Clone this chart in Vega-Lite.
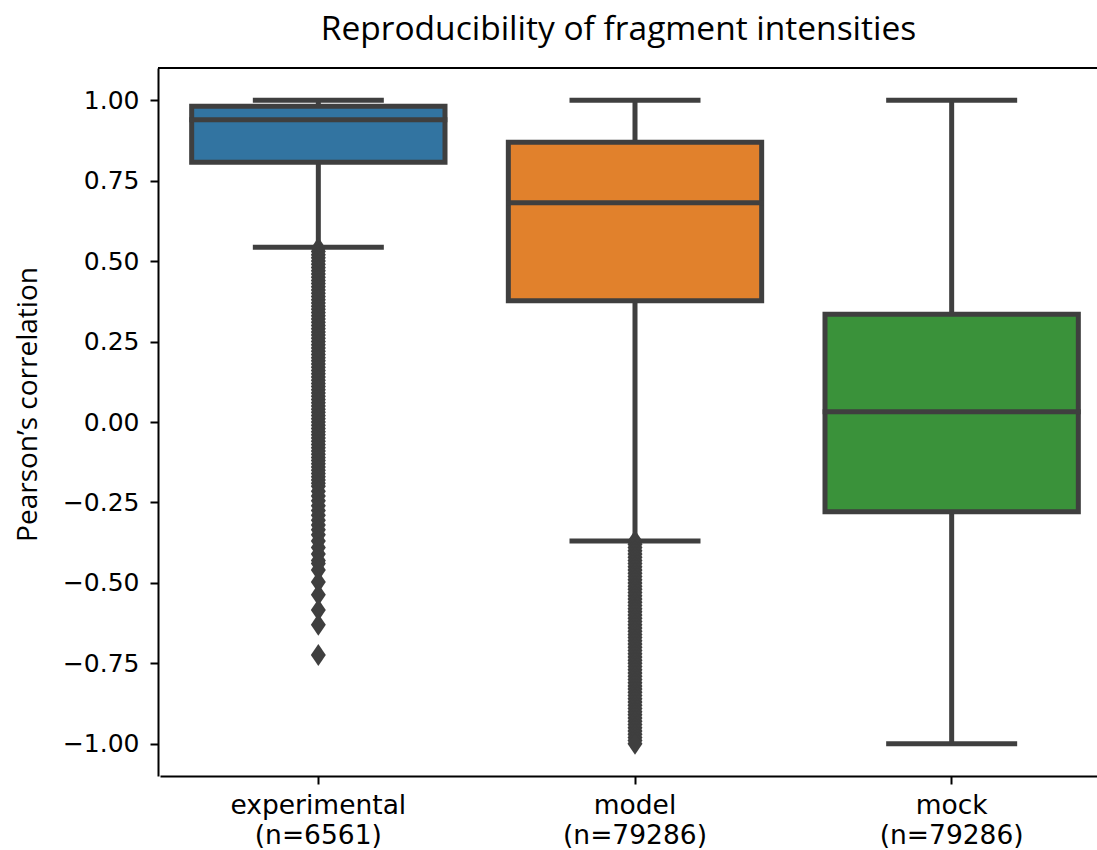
{
  "$schema": "https://vega.github.io/schema/vega-lite/v6.json",
  "autosize": {"type": "none"},
  "padding": {"left": 158, "top": 68, "right": 0, "bottom": 74},
  "width": 939,
  "height": 708,
  "background": "white",
  "config": {"view": {"stroke": null}},
  "title": {
    "text": "Reproducibility of fragment intensities",
    "font": "Open Sans",
    "fontSize": 33.5,
    "fontWeight": "normal",
    "color": "black",
    "frame": "group",
    "anchor": "middle",
    "baseline": "alphabetic",
    "offset": -6,
    "dx": -9
  },
  "datasets": {
    "boxes": [
      {"g": "experimental", "lo": 0.543, "q1": 0.807, "med": 0.939, "q3": 0.981, "hi": 1.0},
      {"g": "model", "lo": -0.37, "q1": 0.377, "med": 0.681, "q3": 0.869, "hi": 1.0},
      {"g": "mock", "lo": -1.0, "q1": -0.279, "med": 0.032, "q3": 0.335, "hi": 1.0}
    ],
    "outliers": [
      {"g": "experimental", "r": 0.54}, {"g": "experimental", "r": 0.53}, {"g": "experimental", "r": 0.52}, {"g": "experimental", "r": 0.51}, {"g": "experimental", "r": 0.50},
      {"g": "experimental", "r": 0.49}, {"g": "experimental", "r": 0.48}, {"g": "experimental", "r": 0.47}, {"g": "experimental", "r": 0.46}, {"g": "experimental", "r": 0.45},
      {"g": "experimental", "r": 0.44}, {"g": "experimental", "r": 0.43}, {"g": "experimental", "r": 0.42}, {"g": "experimental", "r": 0.41}, {"g": "experimental", "r": 0.40},
      {"g": "experimental", "r": 0.39}, {"g": "experimental", "r": 0.38}, {"g": "experimental", "r": 0.37}, {"g": "experimental", "r": 0.36}, {"g": "experimental", "r": 0.35},
      {"g": "experimental", "r": 0.34}, {"g": "experimental", "r": 0.33}, {"g": "experimental", "r": 0.32}, {"g": "experimental", "r": 0.31}, {"g": "experimental", "r": 0.30},
      {"g": "experimental", "r": 0.29}, {"g": "experimental", "r": 0.28}, {"g": "experimental", "r": 0.27}, {"g": "experimental", "r": 0.26}, {"g": "experimental", "r": 0.25},
      {"g": "experimental", "r": 0.24}, {"g": "experimental", "r": 0.23}, {"g": "experimental", "r": 0.22}, {"g": "experimental", "r": 0.21}, {"g": "experimental", "r": 0.20},
      {"g": "experimental", "r": 0.19}, {"g": "experimental", "r": 0.18}, {"g": "experimental", "r": 0.17}, {"g": "experimental", "r": 0.16}, {"g": "experimental", "r": 0.15},
      {"g": "experimental", "r": 0.14}, {"g": "experimental", "r": 0.13}, {"g": "experimental", "r": 0.12}, {"g": "experimental", "r": 0.11}, {"g": "experimental", "r": 0.10},
      {"g": "experimental", "r": 0.09}, {"g": "experimental", "r": 0.08}, {"g": "experimental", "r": 0.07}, {"g": "experimental", "r": 0.06}, {"g": "experimental", "r": 0.05},
      {"g": "experimental", "r": 0.04}, {"g": "experimental", "r": 0.03}, {"g": "experimental", "r": 0.02}, {"g": "experimental", "r": 0.01}, {"g": "experimental", "r": 0.00},
      {"g": "experimental", "r": -0.01}, {"g": "experimental", "r": -0.02}, {"g": "experimental", "r": -0.03}, {"g": "experimental", "r": -0.04}, {"g": "experimental", "r": -0.05},
      {"g": "experimental", "r": -0.06}, {"g": "experimental", "r": -0.07}, {"g": "experimental", "r": -0.08}, {"g": "experimental", "r": -0.09}, {"g": "experimental", "r": -0.10},
      {"g": "experimental", "r": -0.11}, {"g": "experimental", "r": -0.12}, {"g": "experimental", "r": -0.13}, {"g": "experimental", "r": -0.14}, {"g": "experimental", "r": -0.15},
      {"g": "experimental", "r": -0.16}, {"g": "experimental", "r": -0.17}, {"g": "experimental", "r": -0.18}, {"g": "experimental", "r": -0.19}, {"g": "experimental", "r": -0.20},
      {"g": "experimental", "r": -0.215}, {"g": "experimental", "r": -0.23}, {"g": "experimental", "r": -0.245}, {"g": "experimental", "r": -0.26}, {"g": "experimental", "r": -0.275},
      {"g": "experimental", "r": -0.29}, {"g": "experimental", "r": -0.305}, {"g": "experimental", "r": -0.32}, {"g": "experimental", "r": -0.335}, {"g": "experimental", "r": -0.35},
      {"g": "experimental", "r": -0.37}, {"g": "experimental", "r": -0.39}, {"g": "experimental", "r": -0.41}, {"g": "experimental", "r": -0.43}, {"g": "experimental", "r": -0.44},
      {"g": "experimental", "r": -0.46}, {"g": "experimental", "r": -0.497}, {"g": "experimental", "r": -0.537}, {"g": "experimental", "r": -0.584}, {"g": "experimental", "r": -0.63},
      {"g": "experimental", "r": -0.724},
      {"g": "model", "r": -0.37}, {"g": "model", "r": -0.38}, {"g": "model", "r": -0.39}, {"g": "model", "r": -0.40}, {"g": "model", "r": -0.41},
      {"g": "model", "r": -0.42}, {"g": "model", "r": -0.43}, {"g": "model", "r": -0.44}, {"g": "model", "r": -0.45}, {"g": "model", "r": -0.46},
      {"g": "model", "r": -0.47}, {"g": "model", "r": -0.48}, {"g": "model", "r": -0.49}, {"g": "model", "r": -0.50}, {"g": "model", "r": -0.51},
      {"g": "model", "r": -0.52}, {"g": "model", "r": -0.53}, {"g": "model", "r": -0.54}, {"g": "model", "r": -0.55}, {"g": "model", "r": -0.56},
      {"g": "model", "r": -0.57}, {"g": "model", "r": -0.58}, {"g": "model", "r": -0.59}, {"g": "model", "r": -0.60}, {"g": "model", "r": -0.61},
      {"g": "model", "r": -0.62}, {"g": "model", "r": -0.63}, {"g": "model", "r": -0.64}, {"g": "model", "r": -0.65}, {"g": "model", "r": -0.66},
      {"g": "model", "r": -0.67}, {"g": "model", "r": -0.68}, {"g": "model", "r": -0.69}, {"g": "model", "r": -0.70}, {"g": "model", "r": -0.71},
      {"g": "model", "r": -0.72}, {"g": "model", "r": -0.73}, {"g": "model", "r": -0.74}, {"g": "model", "r": -0.75}, {"g": "model", "r": -0.76},
      {"g": "model", "r": -0.77}, {"g": "model", "r": -0.78}, {"g": "model", "r": -0.79}, {"g": "model", "r": -0.80}, {"g": "model", "r": -0.81},
      {"g": "model", "r": -0.82}, {"g": "model", "r": -0.83}, {"g": "model", "r": -0.84}, {"g": "model", "r": -0.85}, {"g": "model", "r": -0.86},
      {"g": "model", "r": -0.87}, {"g": "model", "r": -0.88}, {"g": "model", "r": -0.89}, {"g": "model", "r": -0.90}, {"g": "model", "r": -0.91},
      {"g": "model", "r": -0.92}, {"g": "model", "r": -0.93}, {"g": "model", "r": -0.94}, {"g": "model", "r": -0.95}, {"g": "model", "r": -0.96},
      {"g": "model", "r": -0.97}, {"g": "model", "r": -0.98}, {"g": "model", "r": -0.99}, {"g": "model", "r": -1.0}
    ]
  },
  "encoding": {
    "x": {
      "field": "g",
      "type": "nominal",
      "sort": ["experimental", "model", "mock"],
      "scale": {"domain": ["experimental", "model", "mock"], "range": [2, 952], "paddingInner": 0, "paddingOuter": 0},
      "axis": {
        "title": null,
        "labelAngle": 0,
        "labelExpr": "datum.value == 'experimental' ? ['experimental', '(n=6561)'] : [datum.value, '(n=79286)']",
        "labelFont": "DejaVu Sans",
        "labelFontSize": 26.5,
        "labelLineHeight": 30,
        "labelColor": "black",
        "labelPadding": 8,
        "tickColor": "black",
        "tickWidth": 2,
        "tickSize": 8,
        "domainColor": "black",
        "domainWidth": 2,
        "grid": false
      }
    }
  },
  "layer": [
    {
      "data": {"values": [{}]},
      "mark": {"type": "rule", "color": "black", "strokeWidth": 2},
      "encoding": {"x": null, "y": {"datum": 1.1, "type": "quantitative"}}
    },
    {
      "data": {"name": "boxes"},
      "mark": {"type": "rule", "color": "#3f3f3f", "strokeWidth": 5},
      "encoding": {
        "y": {
          "field": "lo",
          "type": "quantitative",
          "scale": {"domain": [-1.1, 1.1], "nice": false, "zero": false},
          "axis": {
            "title": "Pearson’s correlation",
            "titleFont": "Open Sans",
            "titleFontSize": 28,
            "titleFontWeight": "normal",
            "titleColor": "black",
            "titlePadding": 20,
            "titleY": 336,
            "values": [-1, -0.75, -0.5, -0.25, 0, 0.25, 0.5, 0.75, 1],
            "format": ".2f",
            "labelFont": "DejaVu Sans",
            "labelFontSize": 25,
            "labelColor": "black",
            "labelPadding": 11,
            "tickColor": "black",
            "tickWidth": 2,
            "tickSize": 8,
            "domainColor": "black",
            "domainWidth": 2,
            "grid": false
          }
        },
        "y2": {"field": "hi"}
      }
    },
    {
      "data": {"name": "boxes"},
      "mark": {"type": "bar", "stroke": "#3f3f3f", "strokeWidth": 5, "width": {"band": 0.8}},
      "encoding": {
        "y": {"field": "q1", "type": "quantitative"},
        "y2": {"field": "q3"},
        "color": {
          "field": "g",
          "type": "nominal",
          "scale": {"domain": ["experimental", "model", "mock"], "range": ["#3274a1", "#e1812c", "#3a923a"]},
          "legend": null
        }
      }
    },
    {
      "data": {"name": "boxes"},
      "mark": {"type": "tick", "color": "#3f3f3f", "thickness": 5, "size": 258, "opacity": 1},
      "encoding": {"y": {"field": "med", "type": "quantitative"}}
    },
    {
      "data": {"name": "boxes"},
      "mark": {"type": "tick", "color": "#3f3f3f", "thickness": 5, "size": 131, "opacity": 1},
      "encoding": {"y": {"field": "hi", "type": "quantitative"}}
    },
    {
      "data": {"name": "boxes"},
      "mark": {"type": "tick", "color": "#3f3f3f", "thickness": 5, "size": 131, "opacity": 1},
      "encoding": {"y": {"field": "lo", "type": "quantitative"}}
    },
    {
      "data": {"name": "outliers"},
      "mark": {"type": "point", "filled": true, "color": "#3f3f3f", "opacity": 1, "shape": "M0,-1L0.68,0L0,1L-0.68,0Z", "size": 484},
      "encoding": {"y": {"field": "r", "type": "quantitative"}}
    }
  ]
}
